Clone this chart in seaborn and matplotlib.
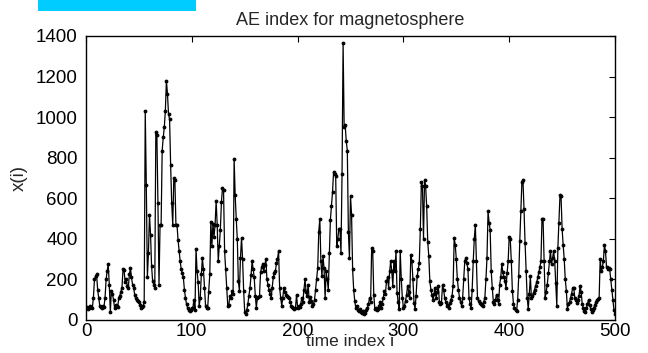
import numpy as np
import pandas as pd
import matplotlib
matplotlib.use("Agg")
import matplotlib.pyplot as plt
import seaborn as sns
from matplotlib.patches import Rectangle

# AE index values (time index 1..500)
ae_000 = [65, 55, 60, 70, 65, 60, 110, 200, 215, 225,
          150, 110, 70, 65, 60, 70, 65, 110, 200, 240,
          275, 175, 40, 145, 130, 100, 60, 75, 70, 65,
          110, 120, 140, 160, 250, 245, 185, 200, 170, 160,
          225, 255, 210, 175, 160, 125, 110, 100, 95, 90]
ae_050 = [75, 60, 65, 70, 90, 1030, 665, 210, 330, 520,
          420, 265, 190, 175, 160, 925, 910, 575, 175, 470,
          470, 835, 900, 950, 1030, 1180, 1115, 1015, 990, 763,
          575, 470, 700, 690, 470, 470, 395, 340, 290, 250,
          230, 210, 150, 110, 78, 60, 50, 45, 50, 60]
ae_100 = [60, 100, 50, 350, 240, 185, 70, 110, 225, 305,
          250, 160, 70, 60, 60, 140, 225, 485, 365, 475,
          410, 470, 585, 470, 290, 365, 445, 580, 650, 640,
          340, 250, 160, 70, 75, 120, 110, 145, 130, 795,
          615, 500, 400, 190, 145, 305, 405, 300, 145, 40]
ae_150 = [30, 50, 80, 120, 160, 220, 290, 250, 210, 120,
          60, 110, 115, 120, 235, 260, 275, 240, 270, 300,
          200, 175, 150, 130, 110, 160, 210, 230, 240, 280,
          300, 340, 160, 110, 70, 110, 160, 140, 125, 120,
          115, 110, 90, 70, 65, 60, 55, 60, 125, 60]
ae_200 = [70, 65, 80, 110, 90, 150, 200, 140, 120, 175,
          90, 115, 95, 70, 80, 100, 150, 200, 255, 435,
          500, 290, 215, 315, 255, 110, 240, 200, 150, 330,
          495, 560, 630, 730, 720, 710, 365, 400, 450, 450,
          330, 720, 1365, 950, 960, 880, 835, 435, 305, 610]
ae_250 = [520, 250, 150, 95, 60, 70, 50, 45, 55, 40,
          35, 45, 30, 35, 50, 60, 80, 110, 90, 355,
          340, 125, 55, 60, 50, 55, 70, 90, 60, 80,
          110, 145, 130, 190, 210, 160, 240, 290, 240, 170,
          290, 240, 340, 135, 90, 55, 340, 200, 110, 60]
ae_300 = [70, 95, 125, 170, 140, 110, 320, 290, 200, 85,
          55, 120, 215, 250, 280, 450, 680, 660, 400, 690,
          660, 560, 385, 315, 190, 150, 125, 100, 130, 160,
          110, 140, 170, 90, 80, 85, 175, 150, 110, 90,
          70, 75, 60, 85, 100, 120, 170, 405, 370, 300]
ae_350 = [200, 150, 110, 90, 70, 110, 200, 290, 305, 280,
          250, 110, 80, 60, 150, 290, 400, 470, 290, 110,
          95, 85, 80, 75, 70, 90, 110, 200, 305, 535,
          480, 445, 240, 160, 90, 80, 100, 125, 100, 80,
          175, 210, 275, 235, 210, 190, 160, 230, 290, 410]
ae_400 = [400, 290, 145, 80, 60, 50, 45, 100, 215, 390,
          535, 680, 690, 545, 380, 240, 110, 55, 130, 215,
          110, 120, 135, 150, 170, 185, 210, 235, 260, 290,
          500, 500, 290, 110, 140, 175, 230, 290, 340, 275,
          305, 340, 290, 180, 70, 355, 480, 615, 610, 450]
ae_450 = [370, 300, 200, 145, 55, 80, 90, 110, 130, 160,
          160, 110, 100, 85, 100, 120, 170, 140, 80, 60,
          45, 40, 60, 80, 100, 75, 55, 40, 50, 60,
          75, 90, 100, 105, 110, 300, 240, 260, 290, 370,
          340, 260, 250, 255, 250, 200, 150, 100, 50, 30]

values = ae_000 + ae_050 + ae_100 + ae_150 + ae_200 + ae_250 + ae_300 + ae_350 + ae_400 + ae_450
time_index = list(range(1, len(values) + 1))

x_ticks = [0, 100, 200, 300, 400, 500]
y_ticks = [0, 200, 400, 600, 800, 1000, 1200, 1400]
title_text = "AE index for magnetosphere"
x_label = "time index i"
y_label = "x(i)"

df = pd.DataFrame({"i": time_index, "x": values})

sns.set_style("white")
plt.rcParams["font.family"] = ["Liberation Sans", "DejaVu Sans"]

fig = plt.figure(figsize=(6.48, 3.53), dpi=100)
W, H = 648, 353
left, right, top, bottom = 86, 615, 36, 320
ax = fig.add_axes([left / W, 1 - bottom / H, (right - left) / W, (bottom - top) / H])

sns.lineplot(data=df, x="i", y="x", ax=ax, color="black", linewidth=0.9,
             marker=".", markersize=4, markeredgecolor="black", markerfacecolor="black")

ax.set_xlim(0, 500)
ax.set_ylim(0, 1400)
ax.set_xticks(x_ticks)
ax.set_yticks(y_ticks)
ax.tick_params(direction="in", length=4, width=0.8, labelsize=13.5, colors="black",
               top=True, right=True)
ax.tick_params(axis="x", pad=2)
ax.tick_params(axis="y", pad=6)
for s in ax.spines.values():
    s.set_color("black")
    s.set_linewidth(1.0)
    s.set_visible(True)

ax.set_title(title_text, fontsize=13, pad=8)
ax.set_xlabel(x_label, fontsize=12.5, labelpad=-4)
ax.set_ylabel(y_label, fontsize=13.5, labelpad=6)

fig.patches.append(Rectangle((38 / W, 1 - 11 / H), (196 - 38) / W, 11 / H,
                             transform=fig.transFigure, facecolor="#00CCFF",
                             edgecolor="none"))

fig.savefig("out.png", dpi=100, facecolor="white")
